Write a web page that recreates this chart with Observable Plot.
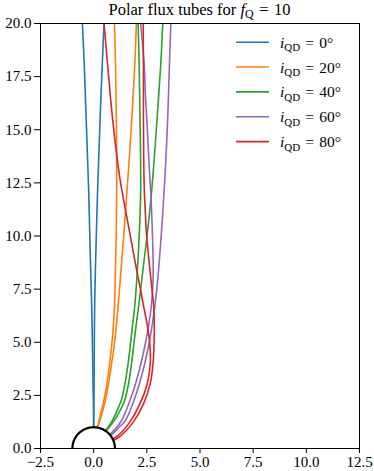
<!DOCTYPE html>
<html><head><meta charset="utf-8">
<script src="https://cdn.jsdelivr.net/npm/d3@7"></script>
<script src="https://cdn.jsdelivr.net/npm/@observablehq/plot@0.6"></script>
<style>body{margin:0;background:#fff}</style>
</head><body><div id="chart"></div>
<script>
const inclinations = [0, 20, 40, 60, 80];
const colors = ["#1f77b4", "#ff7f0e", "#2ca02c", "#9467bd", "#d62728"];
const xTicks = [-2.5, 0, 2.5, 5, 7.5, 10, 12.5];
const yTicks = [0, 2.5, 5, 7.5, 10, 12.5, 15, 17.5, 20];

// flux tube boundary lines, [x, y]
const tube0a = [[0,1],[-0.01,2],[-0.03,3],[-0.06,5],[-0.10,7],[-0.17,9.5],[-0.23,12],[-0.30,14],[-0.37,16],[-0.44,18],[-0.53,20]];
const tube0b = [[0,1],[0.01,2],[0.02,3],[0.03,5],[0.05,7],[0.11,9.5],[0.18,12],[0.25,14],[0.32,16],[0.40,18],[0.49,20]];
const tube20a = [[0.17,0.985],[0.30,1.5],[0.48,2.27],[0.62,3.0],[0.73,3.83],[0.82,4.6],[0.90,5.4],[0.98,6.7],[1.02,8.3],[1.06,10],[1.08,12],[1.08,14],[1.06,16],[1.03,18],[0.98,20]];
const tube20b = [[0.19,0.98],[0.35,1.5],[0.55,2.27],[0.69,3.0],[0.82,3.83],[0.93,4.6],[1.03,5.4],[1.15,6.7],[1.27,8.2],[1.39,9.7],[1.50,11.2],[1.60,12.6],[1.70,14],[1.82,16],[1.93,18],[2.01,20]];
const tube40a = [[0.55,0.835],[0.75,1.1],[0.97,1.49],[1.15,1.9],[1.30,2.27],[1.46,3.0],[1.62,4.0],[1.74,5.0],[1.84,5.9],[1.94,6.8],[2.03,8.0],[2.09,9.0],[2.14,10],[2.18,11],[2.21,12.1],[2.21,13.4],[2.18,15.5],[2.14,18],[2.09,20]];
const tube40b = [[0.58,0.815],[0.85,1.15],[1.08,1.49],[1.30,1.9],[1.46,2.27],[1.63,3.0],[1.78,4.0],[1.90,5.0],[2.01,5.9],[2.13,6.8],[2.27,8.0],[2.39,9.0],[2.51,10],[2.64,11.2],[2.75,12.4],[2.83,13.4],[2.98,15.5],[3.15,18],[3.25,20]];
const tube60a = [[0.76,0.65],[1.0,0.9],[1.32,1.33],[1.65,2.11],[1.97,3.05],[2.22,3.99],[2.43,4.93],[2.60,5.87],[2.72,6.8],[2.78,7.6],[2.80,8.5],[2.78,9.5],[2.75,10.5],[2.68,12.1],[2.61,13.3],[2.50,15.5],[2.44,16.5],[2.38,18],[2.30,19],[2.21,20]];
const tube60b = [[0.80,0.60],[1.1,0.9],[1.50,1.33],[1.84,2.11],[2.15,3.05],[2.40,3.99],[2.60,4.93],[2.76,5.87],[2.89,6.8],[2.97,7.5],[3.10,9],[3.21,10.5],[3.31,12.1],[3.38,13.3],[3.48,15.5],[3.56,18],[3.63,20]];
const tube80a = [[0.90,0.44],[1.2,0.66],[1.65,1.17],[2.18,2.11],[2.52,3.05],[2.66,3.99],[2.64,4.93],[2.51,5.87],[2.34,6.74],[2.20,7.5],[2.04,8.3],[1.78,9.7],[1.52,11.1],[1.25,12.6],[1.06,14],[0.89,15.5],[0.75,17],[0.66,18],[0.49,20]];
const tube80b = [[0.93,0.37],[1.3,0.62],[1.81,1.17],[2.35,2.11],[2.66,3.05],[2.79,3.99],[2.84,4.93],[2.85,5.87],[2.82,6.74],[2.73,7.6],[2.60,8.85],[2.49,10.0],[2.41,11.5],[2.37,12.6],[2.35,14],[2.34,16],[2.34,18],[2.33,20]];

const tubes = [[tube0a, tube0b], [tube20a, tube20b], [tube40a, tube40b], [tube60a, tube60b], [tube80a, tube80b]];
const rows = tubes.flatMap((pair, k) => pair.flatMap((pts, j) =>
  pts.map(([x, y]) => ({x, y, inc: inclinations[k], id: k + "-" + j}))));

// planet surface: unit half circle
const surface = d3.range(0, 181, 1).map(a => ({x: Math.cos(a * Math.PI / 180), y: Math.sin(a * Math.PI / 180)}));

const FONT = "'Liberation Serif', 'Times New Roman', serif";
const W = 374, H = 471;
const plot = Plot.plot({
  width: W, height: H,
  marginLeft: 40, marginRight: 15, marginTop: 23, marginBottom: 23,
  style: {fontFamily: FONT, fontSize: "15px", color: "black", background: "white", overflow: "visible"},
  x: {domain: [-2.5, 12.5]},
  y: {domain: [0, 20]},
  color: {type: "ordinal", domain: inclinations, range: colors},
  marks: [
    Plot.line(rows, {x: "x", y: "y", z: "id", stroke: "inc", strokeWidth: 1.6, curve: "catmull-rom", clip: true}),
    Plot.line(surface, {x: "x", y: "y", stroke: "black", strokeWidth: 2.2, clip: true}),
    Plot.frame({stroke: "black", strokeWidth: 1}),
    Plot.axisX({ticks: xTicks, tickFormat: d3.format(".1f"), tickSize: 5, tickPadding: 3, label: null, fill: "black", stroke: "black", fontSize: 15}),
    Plot.axisY({ticks: yTicks, tickFormat: d3.format(".1f"), tickSize: 6, tickPadding: 3, label: null, fill: "black", stroke: "black", fontSize: 15})
  ]
});

const svg = d3.select(plot);
svg.attr("font-family", FONT);
svg.selectAll("text").style("font-family", FONT);

// title
const t = svg.append("text").attr("x", 199.5).attr("y", 15).attr("text-anchor", "middle")
  .style("font-family", FONT).style("font-size", "16.5px").attr("fill", "black");
t.append("tspan").text("Polar flux tubes for ");
t.append("tspan").style("font-style", "italic").text("f");
t.append("tspan").style("font-size", "12px").attr("dy", 3).text("Q");
t.append("tspan").attr("dy", -3).text("\u2004=\u200410");

// legend
const lg = svg.append("g");
inclinations.forEach((inc, i) => {
  const y = 42.2 + 24.85 * i;
  lg.append("line").attr("x1", 236).attr("x2", 269).attr("y1", y).attr("y2", y)
    .attr("stroke", colors[i]).attr("stroke-width", 1.6);
  const tx = lg.append("text").attr("x", 280).attr("y", y + 5.5).attr("text-anchor", "start")
    .style("font-family", FONT).style("font-size", "15.5px").attr("fill", "black");
  tx.append("tspan").style("font-style", "italic").text("i");
  tx.append("tspan").style("font-size", "11px").attr("dy", 3.5).text("QD");
  tx.append("tspan").attr("dy", -3.5).text("\u2004=\u2004" + inc + "°");
});

document.getElementById("chart").appendChild(plot);
</script>
</body></html>
